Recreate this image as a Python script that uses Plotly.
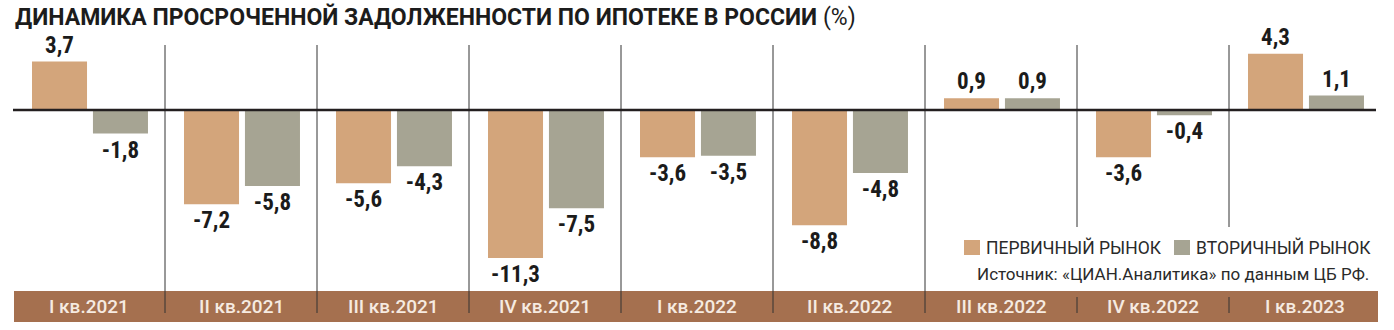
import plotly.graph_objects as go

# Quarterly change in overdue mortgage debt, %
quarters = ["I кв.2021", "II кв.2021", "III кв.2021", "IV кв.2021", "I кв.2022",
            "II кв.2022", "III кв.2022", "IV кв.2022", "I кв.2023"]
primary = [3.7, -7.2, -5.6, -11.3, -3.6, -8.8, 0.9, -3.6, 4.3]
secondary = [-1.8, -5.8, -4.3, -7.5, -3.5, -4.8, 0.9, -0.4, 1.1]
series_names = ["ПЕРВИЧНЫЙ РЫНОК", "ВТОРИЧНЫЙ РЫНОК"]
title_bold = "ДИНАМИКА ПРОСРОЧЕННОЙ ЗАДОЛЖЕННОСТИ ПО ИПОТЕКЕ В РОССИИ"
title_unit = "(%)"
source = "Источник: «ЦИАН.Аналитика» по данным ЦБ РФ."

W, H = 1394, 330
ML, MR = 13, 13
PW = W - ML - MR

C_PRIMARY = "#d3a57b"
C_SECONDARY = "#a6a493"
C_BAND = "#a5704f"
C_DARK = "#231f20"

NARROW = "Liberation Sans Narrow, Roboto Condensed, DejaVu Sans Condensed, Arial Narrow, sans-serif"


def px_x(px):
    return (px - ML) / PW


def px_y(py):
    return 1 - py / H


def fmt(v):
    return f"{v:.1f}".replace(".", ",")


x = list(range(len(quarters)))

fig = go.Figure()
for vals, color, offset in ((primary, C_PRIMARY, -0.375), (secondary, C_SECONDARY, 0.026)):
    fig.add_trace(go.Bar(
        x=x, y=vals,
        width=0.362, offset=offset,
        marker=dict(color=color, line=dict(width=0)),
        text=[fmt(v) for v in vals],
        textposition="outside",
        constraintext="none",
        cliponaxis=False,
        textfont=dict(family=NARROW, size=23, color="#1b1b1b", weight="bold"),
        showlegend=False,
    ))

shapes = []
# bottom band with quarter names
shapes.append(dict(type="rect", xref="paper", yref="paper",
                   x0=px_x(14), x1=px_x(1378), y0=px_y(322), y1=px_y(291),
                   fillcolor=C_BAND, line=dict(width=0), layer="below"))
# column separators
for k in range(1, len(quarters)):
    xs = k - 0.5
    bottom = 313 if k <= 6 else 227
    shapes.append(dict(type="line", xref="x", yref="paper",
                       x0=xs, x1=xs, y0=px_y(45), y1=px_y(bottom),
                       line=dict(color="#333333", width=1)))
    if k > 6:
        shapes.append(dict(type="line", xref="x", yref="paper",
                           x0=xs, x1=xs, y0=px_y(297), y1=px_y(313),
                           line=dict(color="#333333", width=1)))
# zero line
shapes.append(dict(type="line", xref="paper", yref="y",
                   x0=px_x(13), x1=px_x(1376), y0=0, y1=0,
                   line=dict(color=C_DARK, width=2.5), layer="above"))
# legend swatches
for x0, color in ((964, C_PRIMARY), (1174, C_SECONDARY)):
    shapes.append(dict(type="rect", xref="paper", yref="paper",
                       x0=px_x(x0), x1=px_x(x0 + 16), y0=px_y(255), y1=px_y(240),
                       fillcolor=color, line=dict(width=0)))

annotations = []
annotations.append(dict(
    xref="paper", yref="paper", x=px_x(13), y=px_y(17.5),
    xanchor="left", yanchor="middle", showarrow=False,
    text=f"<b>{title_bold}</b> {title_unit}",
    font=dict(family="Roboto, sans-serif", size=23, color="#1c1c1c"),
))
for i, q in enumerate(quarters):
    annotations.append(dict(
        xref="x", yref="paper", x=i, y=px_y(306.5),
        xanchor="center", yanchor="middle", showarrow=False,
        text=q, font=dict(family="Roboto, sans-serif", size=19, color="#f6ebe1", weight=500),
    ))
for x0, name in ((984, series_names[0]), (1194, series_names[1])):
    annotations.append(dict(
        xref="paper", yref="paper", x=px_x(x0), y=px_y(248),
        xanchor="left", yanchor="middle", showarrow=False,
        text=name, font=dict(family="Roboto, sans-serif", size=17.5, color="#2a2a2a"),
    ))
annotations.append(dict(
    xref="paper", yref="paper", x=px_x(1371), y=px_y(274),
    xanchor="right", yanchor="middle", showarrow=False,
    text=source, font=dict(family="Roboto, sans-serif", size=17, color="#2a2a2a"),
))

scale = 13.1  # pixels per percentage point
fig.update_layout(
    width=W, height=H,
    margin=dict(l=ML, r=MR, t=0, b=0, pad=0),
    paper_bgcolor="white", plot_bgcolor="white",
    barmode="overlay",
    xaxis=dict(range=[-0.5, len(quarters) - 0.5], visible=False, fixedrange=True),
    yaxis=dict(range=[-(H - 110) / scale, 110 / scale], visible=False, fixedrange=True),
    shapes=shapes,
    annotations=annotations,
    showlegend=False,
)

fig.write_html("out.html", config={"displayModeBar": False})
